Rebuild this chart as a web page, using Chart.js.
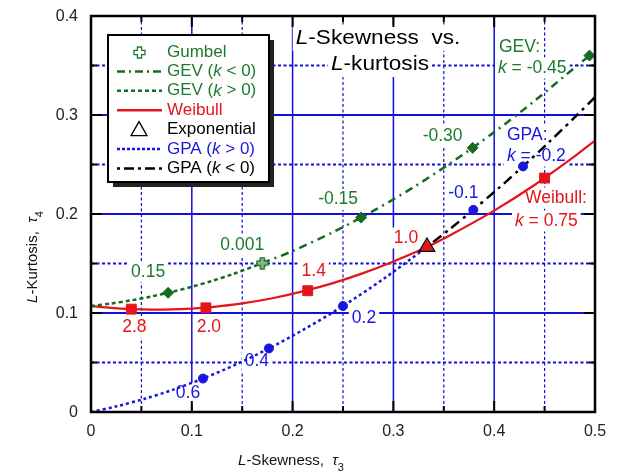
<!DOCTYPE html>
<html>
<head>
<meta charset="utf-8">
<script src="https://cdn.jsdelivr.net/npm/chart.js@4.4.0/dist/chart.umd.min.js"></script>
<style>
  html, body { margin: 0; padding: 0; background: #fff; }
</style>
</head>
<body>
<canvas id="lmr" width="617" height="473"></canvas>
<script>
// GEV curve, k > 0 branch (left of Gumbel) and k < 0 branch
let gevPosT3 = [0, 0.02, 0.04, 0.06, 0.08, 0.10, 0.12, 0.14, 0.17];
let gevPosT4 = [0.107, 0.1096, 0.1128, 0.1167, 0.1213, 0.1265, 0.1324, 0.1390, 0.1504];
let gevNegT3 = [0.17, 0.20, 0.24, 0.28, 0.32, 0.36, 0.40, 0.44, 0.48, 0.4945];
let gevNegT4 = [0.1504, 0.1626, 0.1816, 0.2031, 0.2271, 0.2537, 0.2827, 0.3142, 0.3480, 0.360];

// Weibull curve
let weibT3 = [0, 0.02, 0.04, 0.06, 0.08, 0.10, 0.12, 0.15, 0.18, 0.21, 0.24, 0.27, 0.30, 0.3333, 0.36, 0.40, 0.44, 0.48, 0.50];
let weibT4 = [0.107, 0.1051, 0.1039, 0.1034, 0.1036, 0.1045, 0.1060, 0.1097, 0.1149, 0.1218, 0.1302, 0.1403, 0.1521, 0.1667, 0.1806, 0.2034, 0.2293, 0.2584, 0.2742];

// GPA curve, k > 0 and k < 0 branches
let gpaPosT3 = [0, 0.0256, 0.0526, 0.0811, 0.1111, 0.1429, 0.1765, 0.2121, 0.25, 0.2903, 0.3333];
let gpaPosT4 = [0, 0.0058, 0.0132, 0.0224, 0.0338, 0.0476, 0.0642, 0.0839, 0.1071, 0.1345, 0.1667];
let gpaNegT3 = [0.3333, 0.3559, 0.3793, 0.4035, 0.4286, 0.4545, 0.4815, 0.50];
let gpaNegT4 = [0.1667, 0.1847, 0.2042, 0.2253, 0.2481, 0.2727, 0.2993, 0.318];

// marked parameter values
let gevK = ['0.15', '0.001', '-0.15', '-0.30', '-0.45'];
let gevKT3 = [0.0765, 0.1699, 0.268, 0.3786, 0.4945];
let gevKT4 = [0.1204, 0.1504, 0.1964, 0.2668, 0.360];

let weibK = ['2.8', '2.0', '1.4', '1.0', '0.75'];
let weibKT3 = [0.040, 0.114, 0.215, 0.3333, 0.450];
let weibKT4 = [0.1039, 0.1052, 0.1225, 0.1667, 0.2363];

let gpaK = ['0.6', '0.4', '0.2', '-0.1', '-0.2'];
let gpaKT3 = [0.1111, 0.1765, 0.25, 0.3793, 0.4286];
let gpaKT4 = [0.0338, 0.0642, 0.1071, 0.2042, 0.2481];

let gumbelT3 = [0.1699];
let gumbelT4 = [0.1504];
let expoT3 = [0.3333];
let expoT4 = [0.1667];

let xTicks = [0, 0.1, 0.2, 0.3, 0.4, 0.5];
let yTicks = [0, 0.1, 0.2, 0.3, 0.4];

const GREEN = '#1c7a2c';
const DKGREEN = '#176a22';
const RED = '#e5141b';
const BLUE = '#1616e0';
const GRID = '#1010d8';
const FONT = "'Liberation Sans', Arial, sans-serif";

const pts = (xs, ys) => xs.map((x, i) => ({ x: x, y: ys[i] }));
const fmt = v => v === 0 ? '0' : v.toFixed(1);

function plusIcon(size, color) {
    let c = document.createElement('canvas');
    c.width = size; c.height = size;
    let g = c.getContext('2d');
    let a = size * 0.34, b = size * 0.66, e = size - 1;
    g.strokeStyle = color;
    g.lineWidth = 1.3;
    g.fillStyle = 'rgba(255,255,255,0.5)';
    g.beginPath();
    g.moveTo(a, 1); g.lineTo(b, 1); g.lineTo(b, a); g.lineTo(e, a); g.lineTo(e, b);
    g.lineTo(b, b); g.lineTo(b, e); g.lineTo(a, e); g.lineTo(a, b); g.lineTo(1, b);
    g.lineTo(1, a); g.lineTo(a, a); g.closePath();
    g.fill(); g.stroke();
    return c;
}
const gumbelIcon = plusIcon(13, GREEN);

function curve(data, color, dash, width) {
    return {
        data: data, showLine: true, borderColor: color, borderWidth: width || 2.5,
        borderDash: dash, pointRadius: 0, fill: false, tension: 0.3
    };
}

function textWidth(ctx, parts, sx) {
    let w = 0;
    parts.forEach(p => { ctx.font = p.font; w += ctx.measureText(p.t).width; });
    return w * (sx || 1);
}

// mixed italic/upright text, optional subscript, optional horizontal stretch
function richText(ctx, parts, x, y, align, sx) {
    sx = sx || 1;
    let w = textWidth(ctx, parts, 1);
    ctx.save();
    ctx.translate(x, y);
    ctx.scale(sx, 1);
    let cx = align === 'center' ? -w / 2 : (align === 'right' ? -w : 0);
    parts.forEach(p => {
        ctx.font = p.font;
        ctx.fillText(p.t, cx, p.dy || 0);
        cx += ctx.measureText(p.t).width;
    });
    ctx.restore();
}

// all text in the plot area; boxes=true paints the white backing first
function plotTexts(chart, boxes) {
    const { ctx, scales: { x, y } } = chart;
    const lf = '17.5px ' + FONT, li = 'italic 17.5px ' + FONT;
    const items = [];
    const gevOff = [[-20, -21], [-20, -18], [-23, -18], [-30, -12]];
    const weibOff = [[3, 18], [3, 19], [6, -20], [-21, -9]];
    const gpaOff = [[-15, 15], [-12, 13], [21, 12], [-10, -17]];
    for (let i = 0; i < 4; i++) {
        items.push({ parts: [{ t: gevK[i], font: lf }], color: GREEN, align: 'center',
            x: x.getPixelForValue(gevKT3[i]) + gevOff[i][0], y: y.getPixelForValue(gevKT4[i]) + gevOff[i][1] });
        items.push({ parts: [{ t: weibK[i], font: lf }], color: RED, align: 'center',
            x: x.getPixelForValue(weibKT3[i]) + weibOff[i][0], y: y.getPixelForValue(weibKT4[i]) + weibOff[i][1] });
        items.push({ parts: [{ t: gpaK[i], font: lf }], color: BLUE, align: 'center',
            x: x.getPixelForValue(gpaKT3[i]) + gpaOff[i][0], y: y.getPixelForValue(gpaKT4[i]) + gpaOff[i][1] });
    }
    items.push({ parts: [{ t: 'GEV:', font: lf }], color: GREEN, align: 'left', x: 499, y: 47 });
    items.push({ parts: [{ t: 'k', font: li }, { t: ' = ' + gevK[4], font: lf }], color: GREEN, align: 'left', x: 498, y: 68 });
    items.push({ parts: [{ t: 'GPA:', font: lf }], color: BLUE, align: 'left', x: 507, y: 135 });
    items.push({ parts: [{ t: 'k', font: li }, { t: ' = ' + gpaK[4], font: lf }], color: BLUE, align: 'left', x: 507, y: 156 });
    items.push({ parts: [{ t: 'Weibull:', font: lf }], color: RED, align: 'left', x: 525, y: 198 });
    items.push({ parts: [{ t: 'k', font: li }, { t: ' = ' + weibK[4], font: lf }], color: RED, align: 'left', x: 515, y: 221 });

    const ti = 'italic 20px ' + FONT, tr = '20px ' + FONT;
    items.push({ parts: [{ t: 'L', font: ti }, { t: '-Skewness  vs.', font: tr }], color: '#000', align: 'center', x: 378, y: 38, sx: 1.13 });
    items.push({ parts: [{ t: 'L', font: ti }, { t: '-kurtosis', font: tr }], color: '#000', align: 'center', x: 380, y: 64, sx: 1.13 });

    ctx.save();
    ctx.textBaseline = 'middle';
    items.forEach(it => {
        if (boxes) {
            const w = textWidth(ctx, it.parts, it.sx);
            const left = it.align === 'center' ? it.x - w / 2 : it.x;
            const h = it.sx ? 26 : 21;
            ctx.fillStyle = '#fff';
            ctx.fillRect(left - 3, it.y - h / 2, w + 6, h);
        } else {
            ctx.fillStyle = it.color;
            richText(ctx, it.parts, it.x, it.y, it.align, it.sx);
        }
    });
    ctx.restore();
}

const gridPlugin = {
    id: 'lmrGrid',
    beforeDatasetsDraw(chart) {
        const { ctx, chartArea: a, scales: { x, y } } = chart;
        ctx.save();
        ctx.strokeStyle = GRID;
        for (let i = 1; i < 10; i++) {
            let px = x.getPixelForValue(i * 0.05);
            ctx.lineWidth = i % 2 ? 1.2 : 1.5;
            ctx.setLineDash(i % 2 ? [3, 2.5] : []);
            ctx.beginPath(); ctx.moveTo(px, a.top); ctx.lineTo(px, a.bottom); ctx.stroke();
        }
        for (let i = 1; i < 8; i++) {
            let py = y.getPixelForValue(i * 0.05);
            ctx.lineWidth = 1.8;
            ctx.setLineDash(i % 2 ? [3, 2.5] : []);
            ctx.beginPath(); ctx.moveTo(a.left, py); ctx.lineTo(a.right, py); ctx.stroke();
        }
        ctx.restore();
        plotTexts(chart, true);
    },
    afterDatasetsDraw(chart) {
        const { ctx, chartArea: a, scales: { x, y } } = chart;
        ctx.save();
        ctx.strokeStyle = '#000';
        ctx.lineWidth = 2;
        ctx.setLineDash([]);
        for (let i = 1; i < 10; i++) {
            let px = x.getPixelForValue(i * 0.05);
            let len = i % 2 ? 6 : 11;
            ctx.beginPath();
            ctx.moveTo(px, a.bottom); ctx.lineTo(px, a.bottom - len);
            ctx.moveTo(px, a.top); ctx.lineTo(px, a.top + len);
            ctx.stroke();
        }
        for (let i = 1; i < 8; i++) {
            let py = y.getPixelForValue(i * 0.05);
            let len = i % 2 ? 6 : 11;
            ctx.beginPath();
            ctx.moveTo(a.left, py); ctx.lineTo(a.left + len, py);
            ctx.moveTo(a.right, py); ctx.lineTo(a.right - len, py);
            ctx.stroke();
        }
        ctx.lineWidth = 2.5;
        ctx.strokeRect(a.left, a.top, a.right - a.left, a.bottom - a.top);

        // tick labels
        ctx.fillStyle = '#222';
        ctx.font = '16px ' + FONT;
        ctx.textBaseline = 'middle';
        ctx.textAlign = 'center';
        xTicks.forEach(v => ctx.fillText(fmt(v), x.getPixelForValue(v), 432));
        ctx.textAlign = 'right';
        yTicks.forEach(v => ctx.fillText(fmt(v), 78, y.getPixelForValue(v) + 1));
        ctx.restore();

        plotTexts(chart, false);
    }
};

const legendRows = [
    { label: 'Gumbel', color: GREEN, icon: 'plus' },
    { label: 'GEV (', k: '< 0)', color: GREEN, line: DKGREEN, dash: [8, 4, 2, 4] },
    { label: 'GEV (', k: '> 0)', color: GREEN, line: DKGREEN, dash: [4, 3] },
    { label: 'Weibull', color: RED, line: RED, dash: [] },
    { label: 'Exponential', color: '#000', icon: 'tri' },
    { label: 'GPA (', k: '> 0)', color: BLUE, line: BLUE, dash: [3, 2] },
    { label: 'GPA (', k: '< 0)', color: '#000', line: '#000', dash: [3, 4, 10, 4] }
];

const legendPlugin = {
    id: 'lmrLegend',
    afterDraw(chart) {
        const ctx = chart.ctx;
        const bx = 108, by = 35, bw = 161, bh = 147;
        ctx.save();
        ctx.fillStyle = '#222';
        ctx.fillRect(bx + 5, by + 5, bw, bh);
        ctx.fillStyle = '#fff';
        ctx.fillRect(bx, by, bw, bh);
        ctx.strokeStyle = '#000';
        ctx.lineWidth = 2;
        ctx.strokeRect(bx, by, bw, bh);
        ctx.textBaseline = 'middle';
        const rg = '17px ' + FONT, it = 'italic 17px ' + FONT;
        legendRows.forEach((r, i) => {
            const cy = by + 17 + i * 19.4;
            if (r.icon === 'plus') {
                ctx.drawImage(gumbelIcon, 133, cy - 6);
            } else if (r.icon === 'tri') {
                ctx.strokeStyle = '#000'; ctx.lineWidth = 1.3; ctx.setLineDash([]);
                ctx.beginPath(); ctx.moveTo(139, cy - 8); ctx.lineTo(147, cy + 6); ctx.lineTo(131, cy + 6);
                ctx.closePath(); ctx.stroke();
            } else {
                ctx.strokeStyle = r.line; ctx.lineWidth = 2.5; ctx.setLineDash(r.dash);
                ctx.beginPath(); ctx.moveTo(117, cy); ctx.lineTo(162, cy); ctx.stroke();
                ctx.setLineDash([]);
            }
            ctx.fillStyle = r.color;
            const parts = [{ t: r.label, font: rg }];
            if (r.k) { parts.push({ t: 'k', font: it }, { t: ' ' + r.k, font: rg }); }
            richText(ctx, parts, 167, cy, 'left');
        });

        // axis titles
        ctx.fillStyle = '#111';
        ctx.textBaseline = 'alphabetic';
        const at = '15px ' + FONT, ai = 'italic 15px ' + FONT, sub = '11px ' + FONT;
        richText(ctx, [{ t: 'L', font: ai }, { t: '-Skewness,  ', font: at }, { t: '\u03C4', font: ai }, { t: '3', font: sub, dy: 6 }], 291, 465, 'center');
        ctx.translate(37, 257);
        ctx.rotate(-Math.PI / 2);
        richText(ctx, [{ t: 'L', font: ai }, { t: '-Kurtosis,  ', font: at }, { t: '\u03C4', font: ai }, { t: '4', font: sub, dy: 6 }], 0, 0, 'center');
        ctx.restore();
    }
};

new Chart(document.getElementById('lmr'), {
    type: 'scatter',
    data: {
        datasets: [
            { data: pts(expoT3, expoT4), pointStyle: 'triangle', pointRadius: 9, borderColor: '#000', borderWidth: 1.3, backgroundColor: 'rgba(255,255,255,0)' },
            { data: pts(gumbelT3, gumbelT4), pointStyle: gumbelIcon },
            { data: pts(gevKT3, gevKT4), pointStyle: 'rectRot', pointRadius: 5.5, backgroundColor: DKGREEN, borderColor: DKGREEN, borderWidth: 1 },
            { data: pts(weibKT3, weibKT4), pointStyle: ['rect', 'rect', 'rect', 'triangle', 'rect'], pointRadius: [7, 7, 7, 7, 7], backgroundColor: RED, borderColor: RED, borderWidth: 1 },
            { data: pts(gpaKT3, gpaKT4), pointStyle: 'circle', pointRadius: 4.5, backgroundColor: BLUE, borderColor: BLUE, borderWidth: 1 },
            curve(pts(gevPosT3, gevPosT4), DKGREEN, [4, 3]),
            curve(pts(gevNegT3, gevNegT4), DKGREEN, [8, 5, 2, 5]),
            curve(pts(weibT3, weibT4), RED, [], 2.2),
            curve(pts(gpaPosT3, gpaPosT4), BLUE, [3, 3]),
            curve(pts(gpaNegT3, gpaNegT4), '#000', [3, 5, 10, 5])
        ]
    },
    options: {
        responsive: false,
        animation: false,
        layout: { padding: { left: 0, right: 22, top: 16, bottom: 0 } },
        plugins: { legend: { display: false }, tooltip: { enabled: false } },
        scales: {
            x: {
                type: 'linear', min: 0, max: 0.5,
                grid: { display: false }, border: { display: false },
                ticks: { display: false },
                afterFit: s => { s.height = 61; }
            },
            y: {
                type: 'linear', min: 0, max: 0.4,
                grid: { display: false }, border: { display: false },
                ticks: { display: false },
                afterFit: s => { s.width = 91; }
            }
        }
    },
    plugins: [gridPlugin, legendPlugin]
});
</script>
</body>
</html>
